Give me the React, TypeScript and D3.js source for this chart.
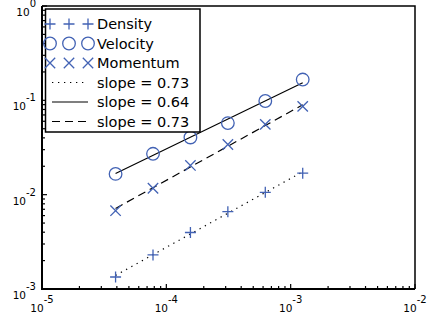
import React from "react";
import * as d3 from "d3";

const xValues = [3.90625e-5, 7.8125e-5, 1.5625e-4, 3.125e-4, 6.25e-4, 1.25e-3];
const density = [1.34e-3, 2.3e-3, 3.97e-3, 6.6e-3, 1.06e-2, 1.69e-2];
const velocity = [1.66e-2, 2.71e-2, 4.04e-2, 5.74e-2, 9.84e-2, 0.166];
const momentum = [6.76e-3, 1.17e-2, 2.04e-2, 3.4e-2, 5.56e-2, 8.63e-2];
const seriesNames = ["Density", "Velocity", "Momentum"];
const fitSlopes = [0.73, 0.64, 0.73];
const fitLabels = ["slope = 0.73", "slope = 0.64", "slope = 0.73"];
const xTickExps = [-5, -4, -3, -2];
const yTickExps = [-3, -2, -1, 0];

const W = 428;
const H = 316;
const BLUE = "#4262b4";
const FONT = "DejaVu Sans, sans-serif";

const x = d3.scaleLog().domain([1e-5, 1e-2]).range([42, 415]);
const y = d3.scaleLog().domain([1e-3, 1]).range([289, 6]);

function fitLine(ys: number[], slope: number) {
  const lx = xValues.map(Math.log10);
  const ly = ys.map(Math.log10);
  const mx = d3.mean(lx)!;
  const my = d3.mean(ly)!;
  const b = my - slope * mx;
  const x0 = xValues[0];
  const x1 = xValues[xValues.length - 1];
  return [
    [x0, Math.pow(10, b + slope * Math.log10(x0))],
    [x1, Math.pow(10, b + slope * Math.log10(x1))],
  ] as [number, number][];
}

const dashes = ["1.3 4.7", "", "8 5"];

function Marker({ kind, cx, cy }: { kind: number; cx: number; cy: number }) {
  const s = 5.5;
  if (kind === 0)
    return (
      <path d={`M${cx - s},${cy}H${cx + s}M${cx},${cy - s}V${cy + s}`} stroke={BLUE} strokeWidth={1.3} fill="none" />
    );
  if (kind === 1) return <circle cx={cx} cy={cy} r={6.3} stroke={BLUE} strokeWidth={1.3} fill="none" />;
  const t = 5.2;
  return (
    <path
      d={`M${cx - t},${cy - t}L${cx + t},${cy + t}M${cx - t},${cy + t}L${cx + t},${cy - t}`}
      stroke={BLUE}
      strokeWidth={1.3}
      fill="none"
    />
  );
}

export default function App() {
  const series = [density, velocity, momentum];
  const line = d3
    .line<[number, number]>()
    .x((d) => x(d[0]))
    .y((d) => y(d[1]));

  const xMinor: number[] = [];
  const yMinor: number[] = [];
  for (let e = -5; e < -2; e++) for (let m = 2; m <= 9; m++) xMinor.push(m * Math.pow(10, e));
  for (let e = -3; e < 0; e++) for (let m = 2; m <= 9; m++) yMinor.push(m * Math.pow(10, e));

  const x0 = x.range()[0];
  const x1 = x.range()[1];
  const y0 = y.range()[0];
  const y1 = y.range()[1];

  const legendRows = [24, 43.5, 63, 82.5, 102, 121.5];
  const legendMarkX = [50, 69, 88];

  return (
    <svg
      width={W}
      height={H}
      style={{ position: "fixed", left: 0, top: 0, background: "#fff" }}
      fontFamily={FONT}
    >
      <rect width={W} height={H} fill="#fff" />
      {/* fit lines */}
      {series.map((s, i) => (
        <path
          key={"fit" + i}
          d={line(fitLine(s, fitSlopes[i]))!}
          stroke="#000"
          strokeWidth={1.2}
          fill="none"
          strokeDasharray={dashes[i] || undefined}
        />
      ))}
      {/* markers */}
      {series.map((s, i) =>
        s.map((v, j) => <Marker key={`m${i}-${j}`} kind={i} cx={x(xValues[j])} cy={y(v)} />)
      )}
      {/* frame */}
      <path d={`M${x0},${y1}H${x1}V${y0}`} stroke="#000" strokeWidth={1.5} fill="none" />
      <path d={`M${x0},${y1}V${y0}H${x1}`} stroke="#000" strokeWidth={2} fill="none" />
      {/* x ticks */}
      {xTickExps.map((e) => (
        <line key={"xt" + e} x1={x(Math.pow(10, e))} x2={x(Math.pow(10, e))} y1={y0} y2={y0 - 5} stroke="#000" strokeWidth={1.2} />
      ))}
      {xMinor.map((v, i) => (
        <line key={"xm" + i} x1={x(v)} x2={x(v)} y1={y0} y2={y0 - 3} stroke="#000" strokeWidth={1.2} />
      ))}
      {/* y ticks */}
      {yTickExps.map((e) => (
        <line key={"yt" + e} y1={y(Math.pow(10, e))} y2={y(Math.pow(10, e))} x1={x0} x2={x0 + 5} stroke="#000" strokeWidth={1.2} />
      ))}
      {yMinor.map((v, i) => (
        <line key={"ym" + i} y1={y(v)} y2={y(v)} x1={x0} x2={x0 + 3} stroke="#000" strokeWidth={1.2} />
      ))}
      {/* x tick labels */}
      {xTickExps.map((e) => (
        <text key={"xl" + e} x={x(Math.pow(10, e))} y={312} textAnchor="middle" fontSize={10.5} fill="#000">
          10
          <tspan dy={-9} fontSize={10}>
            {String(e)}
          </tspan>
        </text>
      ))}
      {/* y tick labels */}
      {yTickExps.map((e) => (
        <text key={"yl" + e} x={36} y={y(Math.pow(10, e)) + 10} textAnchor="end" fontSize={10.5} fill="#000">
          10
          <tspan dy={-9} fontSize={10}>
            {String(e)}
          </tspan>
        </text>
      ))}
      {/* legend */}
      <rect x={45.5} y={9} width={154.5} height={123} fill="#fff" stroke="#000" strokeWidth={1.5} />
      {seriesNames.map((n, i) => (
        <g key={"lg" + i}>
          {legendMarkX.map((mx, k) => (
            <Marker key={k} kind={i} cx={mx} cy={legendRows[i]} />
          ))}
          <text x={97} y={legendRows[i] + 5} fontSize={14.5} fill="#000">
            {n}
          </text>
        </g>
      ))}
      {fitLabels.map((t, i) => (
        <g key={"lf" + i}>
          <line
            x1={52}
            x2={88}
            y1={legendRows[3 + i]}
            y2={legendRows[3 + i]}
            stroke="#000"
            strokeWidth={1.2}
            strokeDasharray={dashes[i] || undefined}
          />
          <text x={97} y={legendRows[3 + i] + 5} fontSize={14.5} fill="#000">
            {t}
          </text>
        </g>
      ))}
    </svg>
  );
}
